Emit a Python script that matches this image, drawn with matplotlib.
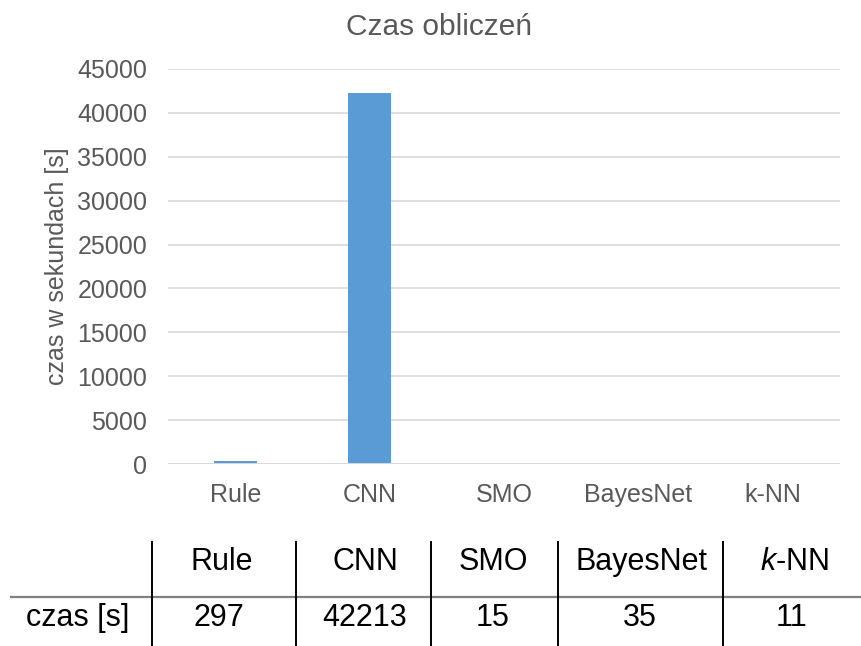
import matplotlib
matplotlib.use("Agg")
import matplotlib.pyplot as plt
from matplotlib.lines import Line2D

plt.rcParams["font.family"] = ["Liberation Sans", "DejaVu Sans"]
plt.rcParams["mathtext.fontset"] = "custom"
plt.rcParams["mathtext.rm"] = "Liberation Sans"
plt.rcParams["mathtext.it"] = "Liberation Sans:italic"

# Data
categories = ["Rule", "CNN", "SMO", "BayesNet", "k-NN"]
times_s = [297, 42213, 15, 35, 11]
table_headers = ["Rule", "CNN", "SMO", "BayesNet", r"$\it{k}$-NN"]
row_label = "czas [s]"
yticks = [0, 5000, 10000, 15000, 20000, 25000, 30000, 35000, 40000, 45000]

TEXT_GRAY = "#595959"
GRID = "#D9D9D9"
BAR = "#5B9BD5"

W, H = 861, 646
fig = plt.figure(figsize=(W / 100, H / 100), dpi=100)

def fx(px):
    return px / W

def fy(py):
    return 1 - py / H

# Chart area
ax = fig.add_axes([fx(168), fy(464), fx(840) - fx(168), fy(69) - fy(464)])
x = range(len(categories))
ax.bar(x, times_s, width=0.32, color=BAR, zorder=3)
ax.set_xlim(-0.5, len(categories) - 0.5)
ax.set_ylim(0, 45000)
ax.set_yticks(yticks)
ax.set_yticklabels([str(v) for v in yticks])
ax.set_xticks(list(x))
ax.set_xticklabels(categories)
ax.grid(axis="y", color=GRID, linewidth=1.2, zorder=0)
ax.axhline(0, color=GRID, linewidth=1.4, zorder=4)
for s in ax.spines.values():
    s.set_visible(False)
ax.tick_params(axis="y", length=0, pad=15, labelsize=18, labelcolor=TEXT_GRAY)
ax.tick_params(axis="x", length=0, pad=14, labelsize=18, labelcolor=TEXT_GRAY)
ax.set_ylabel("czas w sekundach [s]", fontsize=18, color=TEXT_GRAY)
ax.yaxis.set_label_coords((69 - 168) / 672, (464 - 266.5) / 395)

fig.text(fx(438.5), fy(27), "Czas obliczeń", fontsize=21.5, color=TEXT_GRAY,
         ha="center", va="center")

# Data table below the chart
header_y = fy(562)
value_y = fy(618)
header_x = [222, 365, 493, 641, 794]
value_x = [219, 365, 493, 640, 792]
fig.text(fx(77.5), value_y, row_label, fontsize=22, ha="center", va="center", color="black")
for hx, h in zip(header_x, table_headers):
    fig.text(fx(hx), header_y, h, fontsize=22, ha="center", va="center", color="black")
for vx, v in zip(value_x, times_s):
    fig.text(fx(vx), value_y, str(v), fontsize=22, ha="center", va="center", color="black")

fig.add_artist(Line2D([fx(11), fx(861)], [fy(597), fy(597)], color="#808080",
                      linewidth=1.6, transform=fig.transFigure))
for lx in [152, 296, 431, 558, 723]:
    fig.add_artist(Line2D([fx(lx), fx(lx)], [fy(542), fy(646)], color="black",
                          linewidth=1.4, transform=fig.transFigure))

fig.savefig("out.png", dpi=100, facecolor="white")
